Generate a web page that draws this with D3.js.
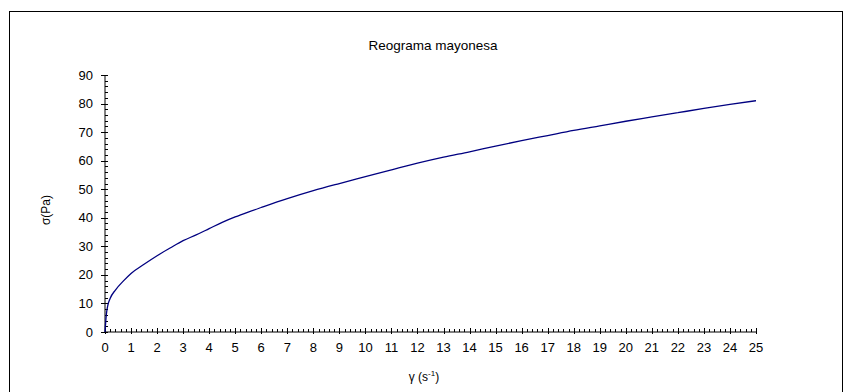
<!DOCTYPE html>
<html>
<head>
<meta charset="utf-8">
<script src="https://cdn.jsdelivr.net/npm/d3@7/dist/d3.min.js"></script>
<style>
  html, body { margin: 0; padding: 0; background: #fff; }
  svg { display: block; }
  text { font-family: "Liberation Sans", Arial, sans-serif; fill: #000; }
</style>
</head>
<body>
<svg id="chart" width="844" height="392"></svg>
<script>
const title = "Reograma mayonesa";
const xLabel = "γ (s";
const yLabel = "σ(Pa)";
const shearRate = [0, 0.05, 0.1, 0.2, 0.4, 0.7, 1, 1.5, 2, 2.5, 3, 3.5, 4, 4.5, 5, 5.5, 6, 7, 8, 9, 10, 11, 12, 13, 14, 15, 16, 17, 18, 19, 20, 21, 22, 23, 24, 25];
const stress    = [0, 6, 9, 11.8, 14.7, 17.8, 20.5, 23.7, 26.7, 29.4, 32.0, 34.0, 36.2, 38.4, 40.3, 42.0, 43.6, 46.7, 49.5, 52.0, 54.4, 56.8, 59.1, 61.2, 63.1, 65.1, 67.0, 68.8, 70.6, 72.2, 73.8, 75.3, 76.8, 78.3, 79.7, 81.0];
const xTicks = d3.range(0, 26, 1);
const yTicks = d3.range(0, 91, 10);

const svg = d3.select("#chart");
const x = d3.scaleLinear().domain([0, 25]).range([105, 756]);
const y = d3.scaleLinear().domain([0, 90]).range([332, 75]);

// frame
svg.append("rect").attr("x", 9.5).attr("y", 11.5).attr("width", 833).attr("height", 400)
  .attr("fill", "none").attr("stroke", "#000").attr("stroke-width", 1);

// title
svg.append("text").attr("x", 433).attr("y", 50).attr("text-anchor", "middle")
  .attr("font-size", 13.5).text(title);

// x axis
const gx = svg.append("g").attr("transform", `translate(0,${y(0)})`);
gx.append("line").attr("x1", x(0)).attr("x2", x(25)).attr("stroke", "#000");
const xMinor = d3.range(0, 25.001, 0.2);
gx.selectAll(".xm").data(xMinor).join("line")
  .attr("x1", d => Math.round(x(d)) + 0.5).attr("x2", d => Math.round(x(d)) + 0.5)
  .attr("y1", 0).attr("y2", -3).attr("stroke", "#000");
gx.selectAll(".xM").data(xTicks).join("line")
  .attr("x1", d => Math.round(x(d)) + 0.5).attr("x2", d => Math.round(x(d)) + 0.5)
  .attr("y1", 2).attr("y2", -4).attr("stroke", "#000");
gx.selectAll(".xl").data(xTicks).join("text")
  .attr("x", d => x(d)).attr("y", 20).attr("text-anchor", "middle")
  .attr("font-size", 13).text(d => d);

// y axis
const gy = svg.append("g").attr("transform", `translate(${x(0)},0)`);
gy.append("line").attr("y1", y(0)).attr("y2", y(90)).attr("stroke", "#000");
const yMinor = d3.range(0, 90.001, 2);
gy.selectAll(".ym").data(yMinor).join("line")
  .attr("y1", d => Math.round(y(d)) + 0.5).attr("y2", d => Math.round(y(d)) + 0.5)
  .attr("x1", 0).attr("x2", 3).attr("stroke", "#000");
gy.selectAll(".yM").data(yTicks).join("line")
  .attr("y1", d => Math.round(y(d)) + 0.5).attr("y2", d => Math.round(y(d)) + 0.5)
  .attr("x1", -4).attr("x2", 3).attr("stroke", "#000");
gy.selectAll(".yl").data(yTicks).join("text")
  .attr("x", -12).attr("y", d => y(d) + 4.5).attr("text-anchor", "end")
  .attr("font-size", 13).text(d => d);

// axis labels
const xl = svg.append("text").attr("x", 424).attr("y", 381).attr("text-anchor", "middle").attr("font-size", 12);
xl.append("tspan").text(xLabel);
xl.append("tspan").attr("font-size", 8).attr("dy", -5).text("-1");
xl.append("tspan").attr("dy", 5).text(")");

svg.append("text").attr("transform", "translate(50,210) rotate(-90)")
  .attr("text-anchor", "middle").attr("font-size", 12).text(yLabel);

// curve
const line = d3.line().x((d, i) => x(shearRate[i])).y(d => y(d)).curve(d3.curveMonotoneX);
svg.append("path").datum(stress).attr("d", line)
  .attr("fill", "none").attr("stroke", "#000080").attr("stroke-width", 1.3);
</script>
</body>
</html>
